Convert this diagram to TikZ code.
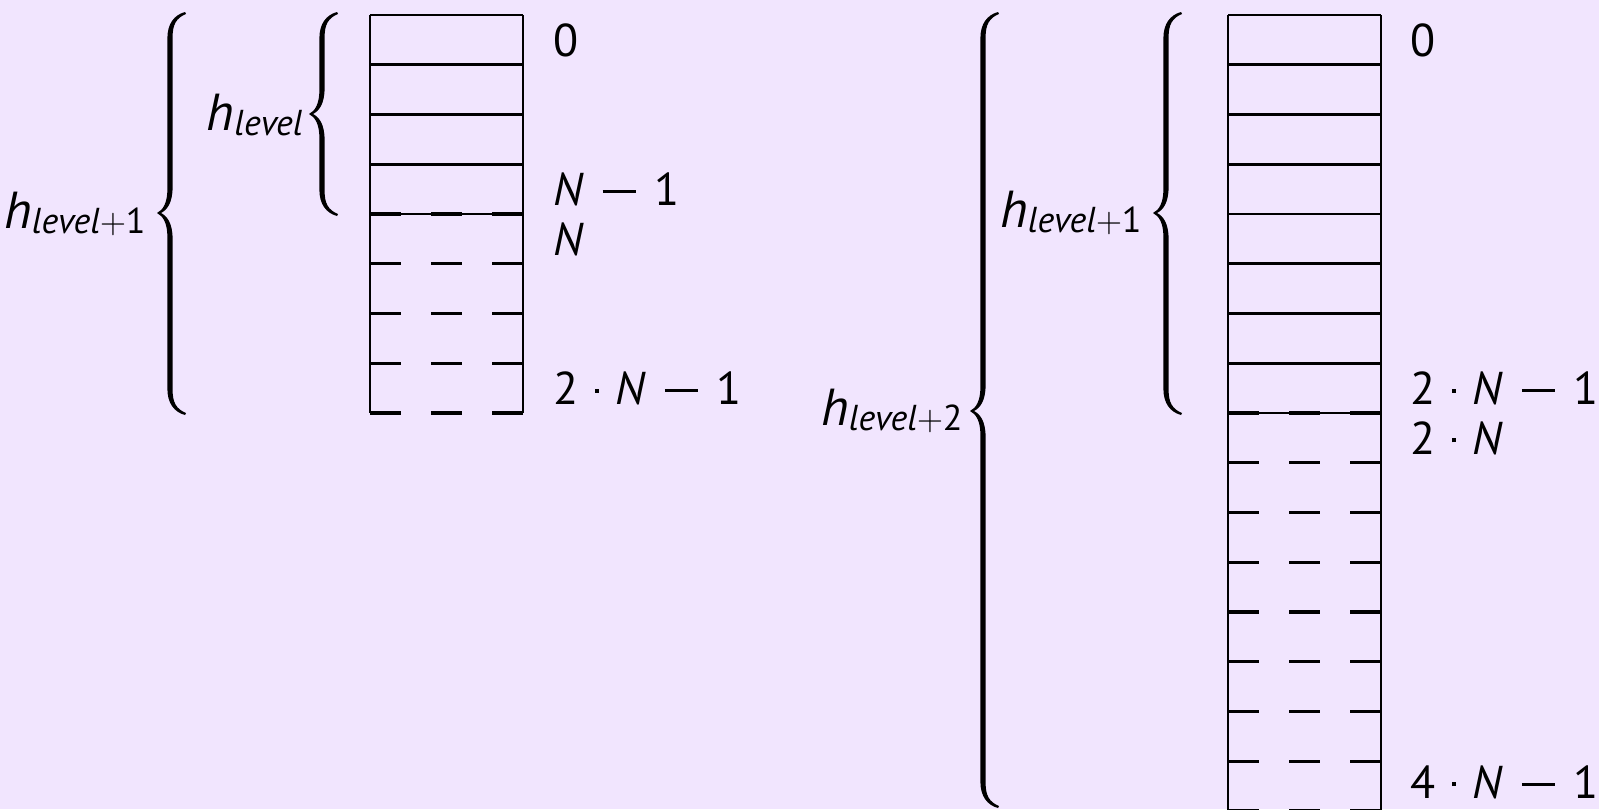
\documentclass[tikz,border=0pt]{standalone}
\usepackage{fontspec}
\setmainfont{PT Sans}
\newfontfamily\lmr{Latin Modern Roman}
\definecolor{bgc}{RGB}{241,229,254}
\newcommand\drawbrace[4]{%
 \fill[black] ({#1+15},{#2}) .. controls ({#1+4},{#2+3}) and ({#1-2.6},{#2+12}) .. ({#1-2.6},{#2+26})
 -- ({#1-2.6},{#3-24}) .. controls ({#1-2.6},{#3-10}) and ({#1-7},{#3-3}) .. ({#1-13},{#3})
 .. controls ({#1-7},{#3+3}) and ({#1-2.6},{#3+10}) .. ({#1-2.6},{#3+24})
 -- ({#1-2.6},{#4-26}) .. controls ({#1-2.6},{#4-12}) and ({#1+4},{#4-3}) .. ({#1+15},{#4})
 -- ({#1+16},{#4-2}) .. controls ({#1+6},{#4-6}) and ({#1+2.6},{#4-13}) .. ({#1+2.6},{#4-25})
 -- ({#1+2.6},{#3+26}) .. controls ({#1+2.6},{#3+10}) and ({#1-3},{#3+3}) .. ({#1-9},{#3})
 .. controls ({#1-3},{#3-3}) and ({#1+2.6},{#3-10}) .. ({#1+2.6},{#3-26})
 -- ({#1+2.6},{#2+25}) .. controls ({#1+2.6},{#2+13}) and ({#1+6},{#2+6}) .. ({#1+16},{#2+2}) -- cycle;}
\newcommand\mminus{\hspace{0.4em}\rule[0.27em]{0.72em}{0.06em}\hspace{0.4em}}
\newcommand\mdot{\hspace{0.36em}\raisebox{0.26em}{\rule{0.09em}{0.09em}}\hspace{0.36em}}
\newcommand\mplus{{\lmr +}}
\newcommand\hlab[1]{\fontsize{26}{26}\selectfont\textit{h}\raisebox{-2.5pt}{\fontsize{18}{18}\selectfont\textit{level}#1}}
\tikzset{
 cellline/.style={line width=1.35pt},
 dashline/.style={line width=1.6pt, dash pattern=on 15.5pt off 15pt},
 idx/.style={anchor=base west, inner sep=0pt, font=\fontsize{23}{23}\selectfont},
 hl/.style={anchor=base east, inner sep=0pt}
}
\begin{document}
\begin{tikzpicture}[x=0.5pt,y=-0.5pt]
\fill[bgc] (0,0) rectangle (1599,809);
\useasboundingbox (0,0) rectangle (1599,809);
\clip (0,0) rectangle (1599,809);
% left tower
\foreach \i in {0,...,4} \draw[cellline] (370,{15+49.75*\i}) -- (523,{15+49.75*\i});
\foreach \i in {4,...,8} \draw[dashline] (370,{15+49.75*\i}) -- (523,{15+49.75*\i});
\draw[cellline] (370,15) -- (370,413) (523,15) -- (523,413);
% right tower
\foreach \i in {0,...,8} \draw[cellline] (1228,{15+49.75*\i}) -- (1381,{15+49.75*\i});
\foreach \i in {8,...,16} \draw[dashline] (1228,{15+49.75*\i}) -- (1381,{15+49.75*\i});
\draw[cellline] (1228,15) -- (1228,830) (1381,15) -- (1381,830);
% braces
\drawbrace{322}{12}{114}{216}
\drawbrace{170}{12}{213}{415}
\drawbrace{1166}{12}{213}{415}
\drawbrace{983}{12}{411}{808}
% index labels
\node[idx] (l0) at (553,{39.9+16.5}) {0};
\node[idx] (lN1) at (553,{189.1+16.5}) {\textit{N}\mminus1};
\node[idx] (lN) at (553,{238.9+16.5}) {\textit{N}};
\node[idx] (l2N1) at (553,{388.1+16.5}) {2\mdot\textit{N}\mminus1};
\node[idx] (r0) at (1410,{39.9+16.5}) {0};
\node[idx] (r2N1) at (1410,{388.1+16.5}) {2\mdot\textit{N}\mminus1};
\node[idx] (r2N) at (1410,{437.9+16.5}) {2\mdot\textit{N}};
\node[idx] (r4N1) at (1410,798) {4\mdot\textit{N}\mminus1};
% h labels
\node[hl] (hl0) at (303,130) {\hlab{}};
\node[hl] (hl1) at (146,228) {\hlab{\mplus1}};
\node[hl] (hr1) at (1142,227) {\hlab{\mplus1}};
\node[hl] (hr2) at (963,425) {\hlab{\mplus2}};
\end{tikzpicture}
\end{document}
